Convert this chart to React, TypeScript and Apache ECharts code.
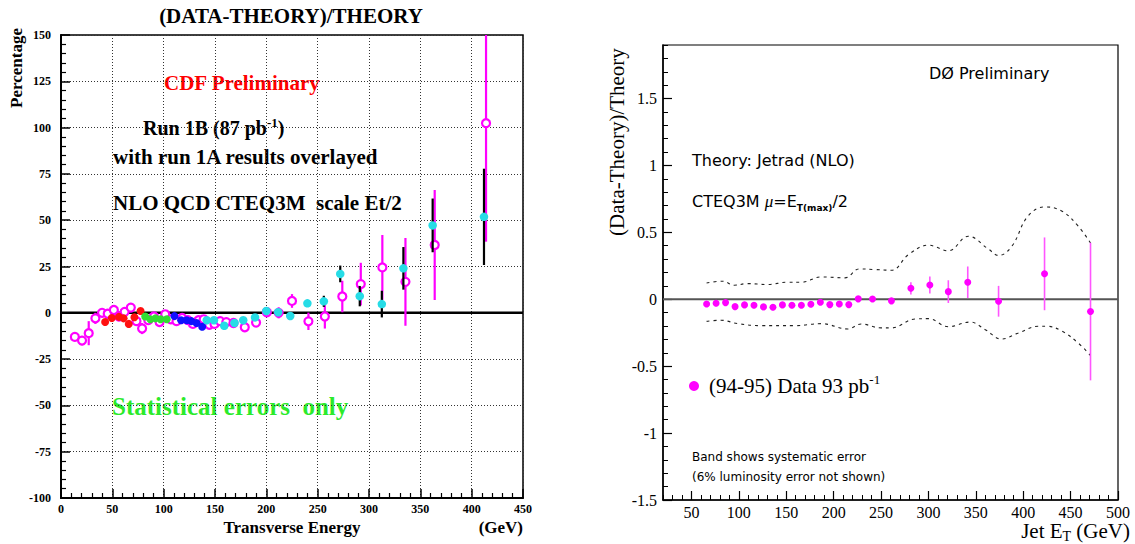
import React, { useEffect, useRef } from 'react';
import * as echarts from 'echarts';

// ---------------- Left panel (CDF) ----------------
// Run 1B (open magenta circles)
const run1bEt = [13.5, 20.5, 27, 33.5, 40, 45.5, 51.5, 56.5, 62, 68, 73.5, 79, 85, 90.5, 96, 101.5, 107, 112.5, 118, 123.5, 128.5, 134, 139, 144.5, 149.5, 155, 161, 168, 179, 190, 200.5, 212, 225, 241, 257, 274, 292, 313, 335.5, 364, 414];
const run1bPct = [-13, -15, -11, -3, 0, -0.5, 1.5, -2, 0.5, 2.8, -4.5, -8.5, -4, -2, -5, -0.8, -3.5, -4.5, -2.8, -4, -6, -4, -3.5, -6.5, -6, -4.5, -5, -5.5, -7.8, -5.3, 0.3, 0, 6.4, -4.6, -2, 8.8, 15.5, 24.5, 16.7, 36.6, 102.4];
const run1bErr = [1.5, 2.5, 6.5, 3, 1.5, 1.5, 1.5, 1.5, 1.5, 1.5, 2, 3, 1.5, 1.5, 1.5, 1.5, 1.5, 1.5, 1.5, 1.5, 1.5, 1.5, 1.5, 1.5, 1.5, 1.5, 1.5, 1.5, 1.5, 1.5, 2, 3, 3.7, 4.7, 6.5, 8.5, 11.5, 17.5, 23.7, 29.7, 64];
// Run 1A (cyan filled circles, black error bars)
const run1aEt = [142, 149, 159, 169, 177.5, 189, 200, 211.5, 223.3, 240, 256, 272, 291, 312.5, 333.5, 362, 412];
const run1aPct = [-4, -4, -7, -5.5, -4, -2.5, 1, 0.3, -1.7, 5.1, 6.2, 21, 9, 4.7, 24, 47.2, 51.8];
const run1aErr = [0.5, 0.5, 0.5, 0.5, 0.5, 0.5, 1, 1, 1.2, 1.5, 3, 4.5, 5.5, 7.2, 11.5, 14.5, 26];
// Low-ET datasets
const redEt = [43, 49.5, 56.5, 61, 66, 71.5, 77.5];
const redPct = [-5, -2.8, -2.2, -3, -6, -2.4, 1];
const greenEt = [82, 87, 92, 97, 103];
const greenPct = [-2, -3.5, -3, -3.5, -3.5];
const blueEt = [110.5, 117, 122.5, 127, 132, 137.5];
const bluePct = [-1.8, -4, -4, -4.5, -5.5, -7.5];
const cdfZeroX = [0, 450];

// ---------------- Right panel (D0) ----------------
const d0Et = [66, 76, 86, 96, 106, 116, 126, 136, 146, 156, 166, 176, 186, 196, 206, 216, 226, 241, 261, 281.5, 301.5, 321, 341.5, 374, 422.5, 471];
const d0Ratio = [-0.035, -0.03, -0.025, -0.055, -0.042, -0.045, -0.057, -0.06, -0.042, -0.045, -0.045, -0.037, -0.022, -0.04, -0.035, -0.04, 0.003, 0.002, -0.012, 0.082, 0.107, 0.057, 0.127, -0.015, 0.19, -0.092];
const d0Err = [0.005, 0.005, 0.005, 0.005, 0.005, 0.005, 0.005, 0.005, 0.005, 0.005, 0.005, 0.005, 0.005, 0.005, 0.005, 0.005, 0.006, 0.006, 0.022, 0.046, 0.064, 0.085, 0.118, 0.115, 0.272, 0.514];
const bandUpEt = [66, 83, 95, 109, 130, 151, 166, 187, 212, 227, 243, 261, 279, 300, 321, 342, 363, 374, 388, 405, 423, 441, 458, 471];
const bandUp = [0.122, 0.135, 0.105, 0.117, 0.11, 0.127, 0.127, 0.167, 0.16, 0.227, 0.222, 0.217, 0.334, 0.404, 0.362, 0.471, 0.377, 0.327, 0.396, 0.621, 0.69, 0.658, 0.546, 0.421];
const bandLoEt = [66, 81, 99, 123, 159, 187, 215, 229, 250, 261, 286, 300, 321, 344, 360, 377, 395, 416, 425, 441, 458, 471];
const bandLo = [-0.165, -0.157, -0.182, -0.197, -0.197, -0.182, -0.222, -0.185, -0.214, -0.214, -0.147, -0.145, -0.205, -0.17, -0.227, -0.297, -0.252, -0.202, -0.202, -0.239, -0.327, -0.421];
const d0ZeroX = [20, 500];
const d0XTicks = [50, 100, 150, 200, 250, 300, 350, 400, 450, 500];
const d0YTicks = [-1.5, -1, -0.5, 0, 0.5, 1, 1.5];

const SERIF = "'Liberation Serif', 'Times New Roman', serif";
const SANS = "'DejaVu Sans', sans-serif";
const D0_NAME = '(94-95) Data 93 pb-1';

const pairs = (xs: number[], ys: number[]) => xs.map((x, i) => [x, ys[i]]);
const errs = (xs: number[], ys: number[], es: number[]) => xs.map((x, i) => [x, ys[i] - es[i], ys[i] + es[i]]);

const errBar = (color: string, width: number) => (_p: any, api: any) => {
  const x = api.value(0);
  const a = api.coord([x, api.value(1)]);
  const b = api.coord([x, api.value(2)]);
  return { type: 'line', shape: { x1: a[0], y1: a[1], x2: b[0], y2: b[1] }, style: { stroke: color, lineWidth: width } };
};

const text = (x: number, y: number, t: string, font: string, extra: any = {}, elExtra: any = {}) => ({
  type: 'text', x, y, silent: true, ...elExtra,
  style: { text: t, font, fill: '#000', align: 'left', verticalAlign: 'middle', ...extra },
});

export default function App() {
  const ref = useRef<HTMLDivElement>(null);
  useEffect(() => {
    if (!ref.current) return;
    const chart = echarts.init(ref.current, undefined, { renderer: 'svg' });
    const leftAxisLabel = { color: '#000', fontFamily: SERIF, fontWeight: 'bold', fontSize: 12 };
    const rightAxisLabel = { color: '#000', fontFamily: SERIF, fontSize: 16 };
    const option: any = {
      animation: false,
      backgroundColor: '#fff',
      grid: [
        { left: 61, top: 35, width: 462, height: 463, show: true, borderColor: '#000', borderWidth: 1.5 },
        { left: 663, top: 45, width: 455, height: 455, show: true, borderColor: '#000', borderWidth: 1.2 },
      ],
      xAxis: [
        {
          gridIndex: 0, type: 'value', min: 0, max: 450, interval: 50, position: 'bottom',
          axisLine: { show: true, onZero: false, lineStyle: { color: '#000', width: 2 } },
          axisTick: { show: true, inside: true, length: 9, lineStyle: { color: '#000', width: 1.5 } },
          minorTick: { show: true, splitNumber: 5, length: 5, lineStyle: { color: '#000', width: 1.2 } },
          splitLine: { show: true, lineStyle: { color: '#333', width: 1, type: [1, 2] } },
          axisLabel: { ...leftAxisLabel, margin: 5 },
        },
        {
          gridIndex: 1, type: 'value', min: 20, max: 500, position: 'bottom',
          axisLine: { show: true, onZero: false, lineStyle: { color: '#000', width: 1.5 } },
          axisTick: { show: true, inside: true, length: 9, customValues: d0XTicks, lineStyle: { color: '#000', width: 1.2 } },
          axisLabel: { ...rightAxisLabel, margin: 4, customValues: d0XTicks },
          splitLine: { show: false },
        },
        {
          gridIndex: 1, type: 'value', min: 20, max: 500, interval: 10, position: 'bottom',
          axisLine: { show: false, onZero: false },
          axisTick: { show: true, inside: true, length: 5, lineStyle: { color: '#000', width: 1 } },
          axisLabel: { show: false },
          splitLine: { show: false },
        },
      ],
      yAxis: [
        {
          gridIndex: 0, type: 'value', min: -100, max: 150, interval: 25, position: 'left',
          axisLine: { show: true, onZero: false, lineStyle: { color: '#000', width: 2 } },
          axisTick: { show: true, inside: true, length: 9, lineStyle: { color: '#000', width: 1.5 } },
          minorTick: { show: true, splitNumber: 5, length: 5, lineStyle: { color: '#000', width: 1.2 } },
          splitLine: { show: true, lineStyle: { color: '#333', width: 1, type: [1, 2] } },
          axisLabel: { ...leftAxisLabel, margin: 10 },
        },
        {
          gridIndex: 1, type: 'value', min: -1.5, max: 1.9, position: 'left',
          axisLine: { show: true, onZero: false, lineStyle: { color: '#000', width: 1.5 } },
          axisTick: { show: true, inside: true, length: 9, customValues: d0YTicks, lineStyle: { color: '#000', width: 1.2 } },
          axisLabel: { ...rightAxisLabel, margin: 6, customValues: d0YTicks, formatter: (v: number) => String(v) },
          splitLine: { show: false },
        },
        {
          gridIndex: 1, type: 'value', min: -1.5, max: 1.9, interval: 0.1, position: 'left',
          axisLine: { show: false, onZero: false },
          axisTick: { show: true, inside: true, length: 5, lineStyle: { color: '#000', width: 1 } },
          axisLabel: { show: false },
          splitLine: { show: false },
        },
      ],
      legend: {
        data: [D0_NAME], left: 684, top: 368, icon: 'circle', itemWidth: 10, itemHeight: 10,
        selectedMode: false,
        formatter: () => '{a|(94-95) Data 93 pb}{s|-1}',
        textStyle: {
          color: '#000', fontFamily: SERIF, fontSize: 21, padding: [0, 0, 0, 5],
          rich: {
            a: { fontFamily: SERIF, fontSize: 21, color: '#000', lineHeight: 26 },
            s: { fontFamily: SERIF, fontSize: 13, color: '#000', verticalAlign: 'top', lineHeight: 26 },
          },
        },
      },
      series: [
        // ---- left ----
        {
          type: 'line', name: 'cdfZero', xAxisIndex: 0, yAxisIndex: 0, data: cdfZeroX.map((x) => [x, 0]),
          showSymbol: false, symbol: 'none', lineStyle: { color: '#000', width: 2.5 }, z: 1, silent: true,
        },
        {
          type: 'custom', name: 'run1bErr', xAxisIndex: 0, yAxisIndex: 0, clip: true, z: 2,
          renderItem: errBar('#ff00ff', 2.2), encode: { x: 0, y: [1, 2] }, data: errs(run1bEt, run1bPct, run1bErr),
        },
        {
          type: 'scatter', name: 'run1b', xAxisIndex: 0, yAxisIndex: 0, z: 3, symbol: 'circle', symbolSize: 8,
          itemStyle: { color: '#ffffff', borderColor: '#ff00ff', borderWidth: 2.2, opacity: 1 },
          data: pairs(run1bEt, run1bPct),
        },
        {
          type: 'scatter', name: 'red', xAxisIndex: 0, yAxisIndex: 0, z: 4, symbolSize: 8,
          itemStyle: { color: '#ff1010', opacity: 1 }, data: pairs(redEt, redPct),
        },
        {
          type: 'scatter', name: 'green', xAxisIndex: 0, yAxisIndex: 0, z: 4, symbolSize: 8,
          itemStyle: { color: '#33dd33', opacity: 1 }, data: pairs(greenEt, greenPct),
        },
        {
          type: 'scatter', name: 'blue', xAxisIndex: 0, yAxisIndex: 0, z: 4, symbolSize: 8,
          itemStyle: { color: '#1010ff', opacity: 1 }, data: pairs(blueEt, bluePct),
        },
        {
          type: 'custom', name: 'run1aErr', xAxisIndex: 0, yAxisIndex: 0, clip: true, z: 4,
          renderItem: errBar('#000000', 2.2), encode: { x: 0, y: [1, 2] }, data: errs(run1aEt, run1aPct, run1aErr),
        },
        {
          type: 'scatter', name: 'run1a', xAxisIndex: 0, yAxisIndex: 0, z: 5, symbolSize: 8.5,
          itemStyle: { color: '#26dce6', opacity: 1 }, data: pairs(run1aEt, run1aPct),
        },
        // ---- right ----
        {
          type: 'line', name: 'd0Zero', xAxisIndex: 1, yAxisIndex: 1, data: d0ZeroX.map((x) => [x, 0]),
          showSymbol: false, symbol: 'none', lineStyle: { color: '#555', width: 1.8 }, z: 1, silent: true,
        },
        {
          type: 'line', name: 'bandUp', xAxisIndex: 1, yAxisIndex: 1, data: pairs(bandUpEt, bandUp), smooth: 0.4,
          showSymbol: false, symbol: 'none', lineStyle: { color: '#222', width: 1.1, type: [3, 4] }, z: 2, silent: true,
        },
        {
          type: 'line', name: 'bandLo', xAxisIndex: 1, yAxisIndex: 1, data: pairs(bandLoEt, bandLo), smooth: 0.4,
          showSymbol: false, symbol: 'none', lineStyle: { color: '#222', width: 1.1, type: [3, 4] }, z: 2, silent: true,
        },
        {
          type: 'custom', name: 'd0Err', xAxisIndex: 1, yAxisIndex: 1, clip: true, z: 3,
          renderItem: errBar('#ff55ff', 1.6), encode: { x: 0, y: [1, 2] }, data: errs(d0Et, d0Ratio, d0Err),
        },
        {
          type: 'scatter', name: D0_NAME, xAxisIndex: 1, yAxisIndex: 1, z: 4, symbolSize: 7,
          itemStyle: { color: '#ff00ff', opacity: 1 }, data: pairs(d0Et, d0Ratio),
        },
      ],
      graphic: [
        // left panel texts
        text(291, 16, '(DATA-THEORY)/THEORY', `bold 21px ${SERIF}`, { align: 'center' }),
        text(16, 68, 'Percentage', `bold 17px ${SERIF}`, { align: 'center' }, { rotation: Math.PI / 2 }),
        text(164, 83, 'CDF Preliminary', `bold 21px ${SERIF}`, { fill: '#ff0000' }),
        text(143, 128, '{a|Run 1B (87 pb}{s|-1}{a|)}', `bold 20px ${SERIF}`, {
          rich: {
            a: { font: `bold 20px ${SERIF}`, fill: '#000', lineHeight: 24 },
            s: { font: `bold 13px ${SERIF}`, fill: '#000', verticalAlign: 'top', lineHeight: 24 },
          },
        }),
        text(113, 157, 'with run 1A results overlayed', `bold 21px ${SERIF}`),
        text(113, 203, 'NLO QCD CTEQ3M  scale Et/2', `bold 21px ${SERIF}`),
        text(112, 406, 'Statistical errors  only', `bold 25px ${SERIF}`, { fill: '#2bea2b' }),
        text(292, 527, 'Transverse Energy', `bold 17px ${SERIF}`, { align: 'center' }),
        text(523, 527, '(GeV)', `bold 17px ${SERIF}`, { align: 'right' }),
        // right panel texts
        text(929, 73, 'DØ Preliminary', `16px ${SANS}`),
        text(692, 160, 'Theory: Jetrad (NLO)', `16px ${SANS}`),
        text(692, 201, '{a|CTEQ3M }{m|μ}{a|=E}{t|T(max)}{a|/2}', `16px ${SANS}`, {
          rich: {
            a: { font: `16px ${SANS}`, fill: '#000', lineHeight: 22 },
            m: { font: `italic 17px ${SERIF}`, fill: '#000', lineHeight: 22 },
            t: { font: `bold 9px ${SANS}`, fill: '#000', verticalAlign: 'bottom', lineHeight: 22 },
          },
        }),
        text(692, 457, 'Band shows systematic error', `12px ${SANS}`),
        text(692, 477, '(6% luminosity error not shown)', `12px ${SANS}`),
        text(617, 142, '(Data-Theory)/Theory', `21px ${SERIF}`, { align: 'center' }, { rotation: Math.PI / 2 }),
        text(1130, 531.5, '{a|Jet E}{t|T}{a| (GeV)}', `21px ${SERIF}`, {
          align: 'right',
          rich: {
            a: { font: `21px ${SERIF}`, fill: '#000', lineHeight: 21, verticalAlign: 'top' },
            t: { font: `14px ${SERIF}`, fill: '#000', verticalAlign: 'bottom', lineHeight: 23 },
          },
        }),
      ],
    };
    chart.setOption(option);
    return () => chart.dispose();
  }, []);
  return <div ref={ref} style={{ position: 'absolute', left: 0, top: 0, width: 1135, height: 544 }} />;
}
